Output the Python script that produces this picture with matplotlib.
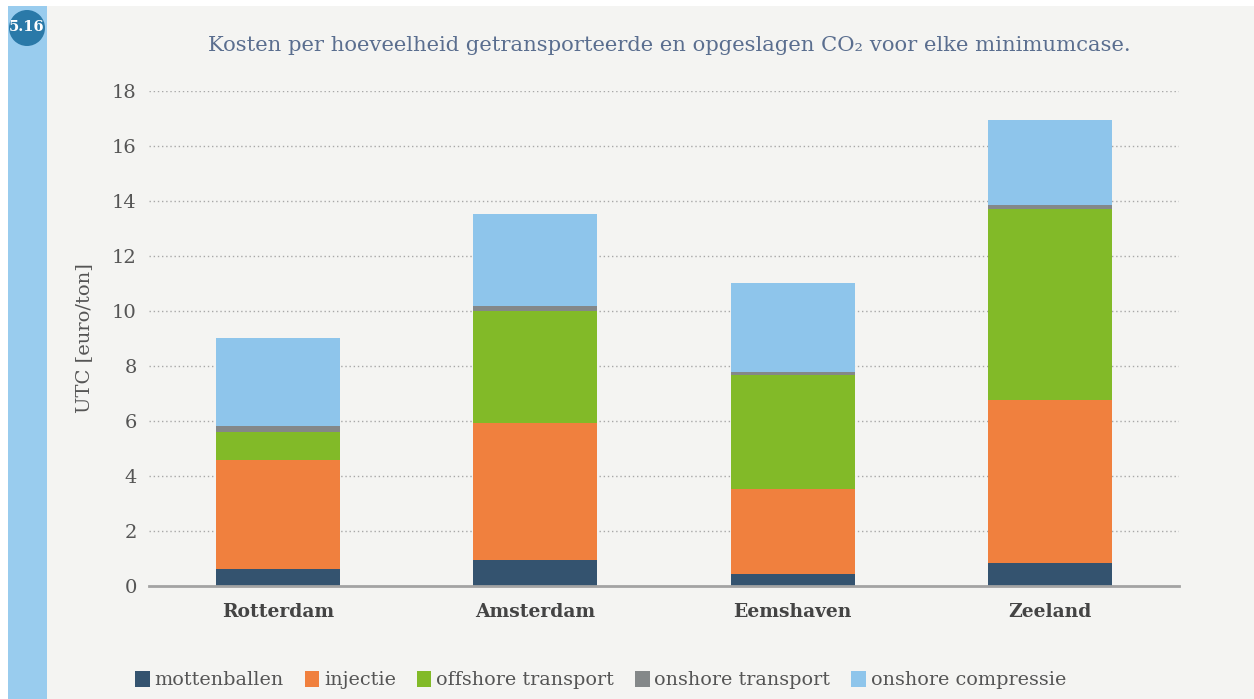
import matplotlib
matplotlib.use("Agg")
import matplotlib.pyplot as plt
from matplotlib.patches import Rectangle, Circle
import numpy as np

categories = ["Rotterdam", "Amsterdam", "Eemshaven", "Zeeland"]
series_names = ["mottenballen", "injectie", "offshore transport", "onshore transport", "onshore compressie"]
mottenballen = [0.63, 0.95, 0.44, 0.84]
injectie = [3.96, 4.98, 3.09, 5.93]
offshore_transport = [1.01, 4.06, 4.14, 6.94]
onshore_transport = [0.22, 0.19, 0.11, 0.14]
onshore_compressie = [3.20, 3.35, 3.24, 3.10]
yticks = [0, 2, 4, 6, 8, 10, 12, 14, 16, 18]

colors = ["#34536f", "#f0803e", "#82ba28", "#848889", "#8ec5eb"]
series = [mottenballen, injectie, offshore_transport, onshore_transport, onshore_compressie]

bg = "#f4f4f2"
plt.rcParams['font.family'] = ['DejaVu Serif']

fig = plt.figure(figsize=(12.54, 6.99), dpi=100, facecolor=bg)
ax = fig.add_axes([0.1191, 0.1617, 0.8208, 0.708])
ax.set_facecolor(bg)

x = np.arange(len(categories))
bottom = np.zeros(len(categories))
handles = []
for name, vals, c in zip(series_names, series, colors):
    b = ax.bar(x, vals, width=0.482, bottom=bottom, color=c, label=name, zorder=3)
    handles.append(b)
    bottom += np.array(vals)

ax.set_xlim(-0.5, 3.5)
ax.set_ylim(0, 18)
ax.set_yticks(yticks)
ax.set_yticklabels([str(t) for t in yticks], fontsize=14, color="#555555")
ax.set_xticks(x)
ax.set_xticklabels(categories, fontsize=13.5, fontweight="bold", color="#444444")
ax.tick_params(axis="y", length=0, pad=9)
ax.tick_params(axis="x", length=0, pad=12)
for t in yticks[1:]:
    ax.axhline(t, color="#a8a8a8", lw=1.0, ls=(0, (1, 2)), zorder=1)
for s in ["top", "right", "left"]:
    ax.spines[s].set_visible(False)
ax.spines["bottom"].set_color("#a3a3a3")
ax.spines["bottom"].set_linewidth(2)
ax.spines["bottom"].set_zorder(4)

ax.set_ylabel("UTC [euro/ton]", fontsize=14, color="#555555", labelpad=14)

fig.text(0.5335, 0.935, "Kosten per hoeveelheid getransporteerde en opgeslagen CO\u2082 voor elke minimumcase.",
         ha="center", va="center", fontsize=15.2, color="#5a6e8f")

# sidebar
fig.patches.append(Rectangle((8 / 1254, 0), 39 / 1254, 1, transform=fig.transFigure,
                             facecolor="#99ccee", edgecolor="none", zorder=0))
fig.patches.append(Rectangle((0, 0), 8 / 1254, 1, transform=fig.transFigure,
                             facecolor="white", edgecolor="none", zorder=0))
fig.patches.append(Rectangle((0, 693 / 699), 1, 6 / 699, transform=fig.transFigure,
                             facecolor="white", edgecolor="none", zorder=0))
circ = Circle((27, 699 - 28), 18, transform=None, facecolor="#2a79a8", edgecolor="none", zorder=5)
fig.patches.append(circ)
fig.text(27 / 1254, 1 - 27 / 699, "5.16", ha="center", va="center", fontsize=10.5,
         fontweight="bold", color="white", zorder=6)

leg = fig.legend(handles=handles, labels=series_names, loc="center", ncol=5,
                 bbox_to_anchor=(0.479, 0.027), frameon=False, fontsize=13.8,
                 handlelength=0.75, handleheight=0.9, handletextpad=0.25, columnspacing=1.1)
for t in leg.get_texts():
    t.set_color("#555555")

fig.savefig("out.png", dpi=100, facecolor=bg)
